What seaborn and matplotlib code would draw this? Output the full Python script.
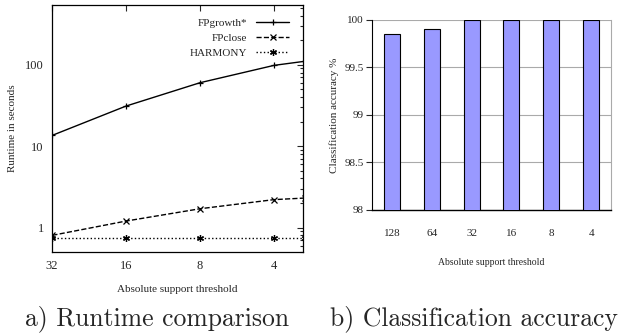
import numpy as np
import pandas as pd
import matplotlib
matplotlib.use("Agg")
import matplotlib.pyplot as plt
import seaborn as sns

# runtime comparison (left)
thresholds = [32, 16, 8, 4, 3]
fpgrowth = [13.5, 31, 60, 98, 110]
fpclose = [0.8, 1.2, 1.7, 2.2, 2.3]
harmony = [0.75, 0.75, 0.75, 0.75, 0.75]
runtime_ticks = [32, 16, 8, 4]

# classification accuracy (right)
acc_thresholds = ["128", "64", "32", "16", "8", "4"]
accuracy = [99.85, 99.9, 100, 100, 100, 100]

sns.set_style("white")
plt.rcParams["font.family"] = ["Liberation Serif", "DejaVu Serif"]

fig = plt.figure(figsize=(6.32, 3.33), dpi=100)
ax1 = fig.add_axes([0.0823, 0.2432, 0.3967, 0.7418])
ax2 = fig.add_axes([0.5886, 0.3694, 0.3782, 0.5706])

df = pd.DataFrame({
    "threshold": thresholds * 3,
    "runtime": fpgrowth + fpclose + harmony,
    "method": ["FPgrowth*"] * 5 + ["FPclose"] * 5 + ["HARMONY"] * 5,
})
styles = {"FPgrowth*": ("-", "+"), "FPclose": ("--", "x"), "HARMONY": (":", (6, 2, 0))}
for name, (ls, mk) in styles.items():
    sub = df[df["method"] == name]
    sns.lineplot(data=sub, x="threshold", y="runtime", ax=ax1, color="black",
                 linestyle=ls, marker=mk, markersize=5, markeredgewidth=0.9,
                 markeredgecolor="black", linewidth=1.0, label=name)

ax1.set_xscale("log", base=2)
ax1.set_yscale("log")
ax1.set_xlim(32, 3.06)
ax1.set_ylim(0.5, 540)
ax1.set_xticks(runtime_ticks)
ax1.set_xticklabels([str(t) for t in runtime_ticks], fontsize=9)
ax1.xaxis.set_minor_locator(matplotlib.ticker.NullLocator())
ax1.set_yticks([1, 10, 100])
ax1.set_yticklabels(["1", "10", "100"], fontsize=9)
ax1.tick_params(axis="both", which="both", direction="in", top=True, right=True,
                length=4, width=0.8, pad=6)
ax1.tick_params(axis="y", which="minor", length=2)
for s in ax1.spines.values():
    s.set_color("black")
    s.set_linewidth(0.9)
ax1.set_xlabel("Absolute support threshold", fontsize=8, labelpad=9)
ax1.set_ylabel("Runtime in seconds", fontsize=8, labelpad=6)
ax1.legend(loc="upper right", frameon=False, fontsize=8, markerfirst=False,
           handlelength=3.0, labelspacing=0.45, borderaxespad=0.8)

# right panel: bar chart
acc_df = pd.DataFrame({"threshold": acc_thresholds, "accuracy": accuracy})
sns.barplot(data=acc_df, x="threshold", y="accuracy", ax=ax2, color="#9999ff",
            saturation=1, width=0.4, edgecolor="black", linewidth=0.8, zorder=3)
ax2.set_ylim(98, 100)
ax2.set_xlim(-0.5, 5.5)
ax2.set_yticks([98, 98.5, 99, 99.5, 100])
ax2.set_yticklabels(["98", "98.5", "99", "99.5", "100"], fontsize=8)
ax2.yaxis.grid(True, color="#aaaaaa", linewidth=0.8, zorder=0)
ax2.set_axisbelow(True)
ax2.set_xticks(range(6))
ax2.set_xticklabels(acc_thresholds, fontsize=8)
ax2.set_xticks(np.arange(-0.5, 6, 1), minor=True)
ax2.tick_params(axis="x", which="major", length=0, pad=14)
ax2.tick_params(axis="x", which="minor", direction="out", length=4, width=0.8)
ax2.tick_params(axis="y", direction="out", length=4, width=0.8, left=True, pad=2)
ax2.spines["top"].set_visible(False)
ax2.spines["right"].set_color("#aaaaaa")
ax2.spines["left"].set_color("black")
ax2.spines["bottom"].set_color("black")
ax2.spines["bottom"].set_linewidth(1.0)
ax2.set_xlabel("Absolute support threshold", fontsize=7, labelpad=14)
ax2.set_ylabel("Classification accuracy %", fontsize=8, labelpad=4)

fig.text(0.248, 0.022, "a) Runtime comparison", fontsize=18.5, family="cmr10",
         ha="center", va="baseline")
fig.text(0.75, 0.022, "b) Classification accuracy", fontsize=18.5, family="cmr10",
         ha="center", va="baseline")

fig.savefig("out.png", dpi=100)
